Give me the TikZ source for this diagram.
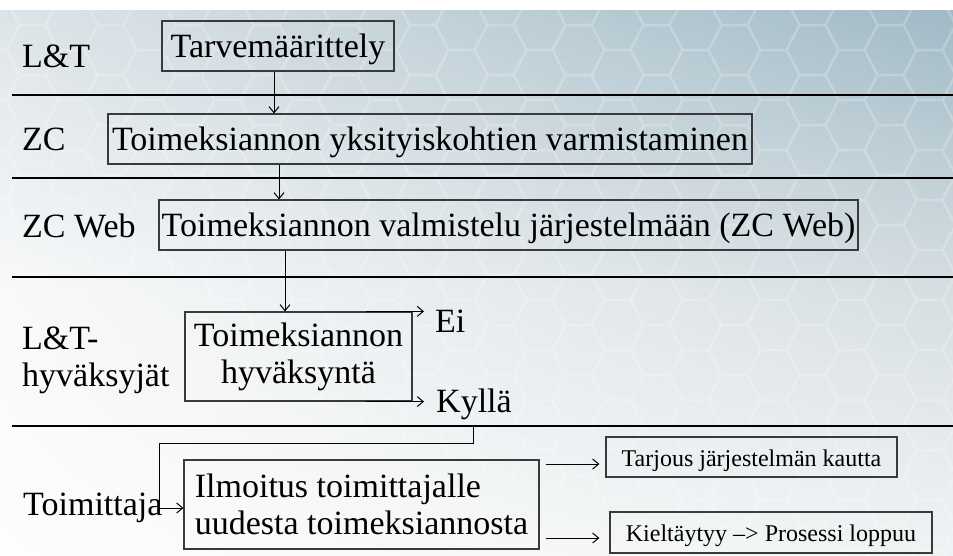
\documentclass[tikz,border=0pt]{standalone}
\usepackage{fontspec}
\setmainfont{Liberation Serif}
\usetikzlibrary{arrows.meta,calc,shadings}

\definecolor{bgTL}{RGB}{221,228,232}
\definecolor{bgTR}{RGB}{160,186,198}
\definecolor{bgML}{RGB}{248,249,250}
\definecolor{bgMR}{RGB}{214,222,226}
\definecolor{bgBL}{RGB}{253,253,253}
\definecolor{bgBR}{RGB}{240,243,244}
\definecolor{boxline}{RGB}{58,58,58}

\begin{document}
\begin{tikzpicture}[x=1pt,y=-1pt,
  bigfont/.style={font=\fontsize{34}{37}\selectfont},
  smallfont/.style={font=\fontsize{24}{28}\selectfont},
  laneline/.style={draw=black,line width=1.2pt},
  procbox/.style={draw=boxline,line width=1.2pt,inner sep=0pt,bigfont},
  onerow/.style={text height=24pt,text depth=1pt},
  resultbox/.style={draw=boxline,line width=1.2pt,inner sep=0pt,smallfont,
    text height=19pt,text depth=1pt},
  lanelabel/.style={bigfont,inner sep=0pt,anchor=base west},
  flow/.style={draw=black,line width=1pt,-{Straight Barb[length=6pt,width=10pt]}}
]
\useasboundingbox (0,0) rectangle (953,555);

% backdrop: white top strip, shaded panel with a faint honeycomb
\fill[white] (0,0) rectangle (953,10);
\shade[upper left=bgTL,upper right=bgTR,lower left=bgML,lower right=bgMR]
  (0,10) rectangle (953,290);
\shade[upper left=bgML,upper right=bgMR,lower left=bgBL,lower right=bgBR]
  (0,289.5) rectangle (953,555);
\begin{scope}
  \clip (0,10) rectangle (953,555);
  \draw[white,opacity=0.22,line width=2.5pt,line join=round]
    \foreach \i [evaluate=\i as \cx using {32.5+\i*39},
                 evaluate=\i as \off using {mod(\i,2)*25}] in {-1,...,24} {
      \foreach \j in {-1,...,12} {
        ({\cx-13},{\j*50+\off-25}) -- ++(26,0) -- ++(13,25) -- ++(-13,25)
          -- ++(-26,0) -- ++(-13,-25) -- cycle
      }
    };
\end{scope}

% swimlane separators
\coordinate (l1) at (12,95);
\coordinate (l2) at (12,178);
\coordinate (l3) at (12,277);
\coordinate (l4) at (12,426);
\coordinate (rim) at (953,0);
\foreach \l in {l1,l2,l3,l4} \draw[laneline] (\l) -- (\l -| rim);

% lane names
\node[lanelabel] (laneLT)  at (22,67)  {L\&T};
\node[lanelabel] (laneZC)  at (22,150) {ZC};
\node[lanelabel] (laneWeb) at (22,237) {ZC Web};
\node[bigfont,inner sep=0pt,anchor=west,align=left] (laneHyv) at (22,360)
  {L\&T-\\hyväksyjät};
\node[lanelabel] (laneToim) at (23,515) {Toimittaja};

% process steps
\node[procbox,onerow,minimum width=232pt,minimum height=50pt] (tarve)
  at (278,46) {Tarvemäärittely};
\node[procbox,onerow,minimum width=644pt,minimum height=50pt] (zc)
  at (430,139) {Toimeksiannon yksityiskohtien varmistaminen};
\node[procbox,onerow,minimum width=699pt,minimum height=50pt] (zcweb)
  at (508.5,225) {Toimeksiannon valmistelu järjestelmään (ZC Web)};
\node[procbox,align=center,minimum width=227pt,minimum height=89pt] (hyv)
  at (298.5,356.5) {Toimeksiannon\\hyväksyntä};
\node[procbox,align=left,minimum width=355pt,minimum height=89pt] (ilm)
  at (361.5,504.5) {Ilmoitus toimittajalle\\uudesta toimeksiannosta};
\node[resultbox,minimum width=291pt,minimum height=40pt] (tarjous)
  at (751.5,457) {Tarjous järjestelmän kautta};
\node[resultbox,minimum width=322pt,minimum height=41pt] (kielt)
  at (771,532.5) {Kieltäytyy –> Prosessi loppuu};

% decision outcomes
\node[lanelabel] (ei)    at (435,332) {Ei};
\node[lanelabel] (kylla) at (436,412) {Kyllä};

% connectors
\coordinate (c1) at (274,0);
\coordinate (c2) at (279,0);
\coordinate (c3) at (285,0);
\coordinate (bend) at (159,443);
\draw[flow] (tarve.south -| c1) -- (zc.north -| c1);
\draw[flow] (zc.south -| c2) -- (zcweb.north -| c2);
\draw[flow] (zcweb.south -| c3) -- (hyv.north -| c3);
\draw[flow] ($(hyv.north east)+(-47,0)$) -- ($(ei.west |- hyv.north)+(-11,0)$);
\draw[flow] ($(hyv.south east)+(-47,0)$) -- ($(kylla.west |- hyv.south)+(-12,0)$);
\draw[flow] (kylla.south |- l4) |- (bend) |- ($(ilm.west)+(0,3.5)$);
\draw[flow] ($(ilm.east |- tarjous.west)+(6,7)$) -- ($(tarjous.west)+(-6,7)$);
\draw[flow] ($(ilm.east |- kielt.west)+(6,5.5)$) -- ($(kielt.west)+(-10,5.5)$);
\end{tikzpicture}
\end{document}
